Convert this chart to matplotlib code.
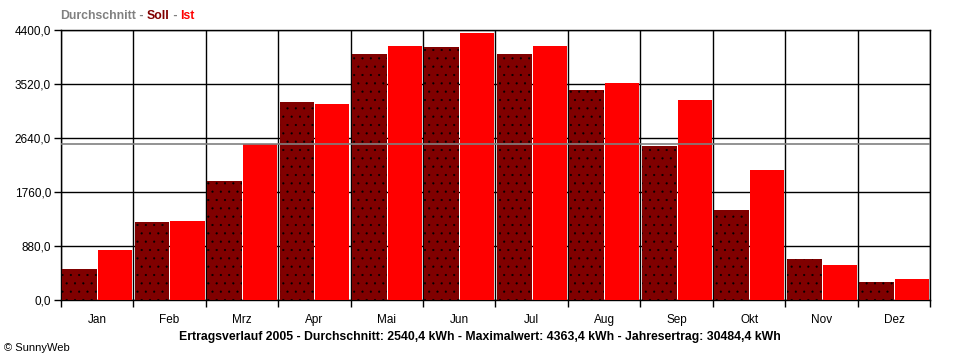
import matplotlib
matplotlib.use("Agg")
import matplotlib.pyplot as plt
import numpy as np

months = ["Jan", "Feb", "Mrz", "Apr", "Mai", "Jun", "Jul", "Aug", "Sep", "Okt", "Nov", "Dez"]
soll = [510, 1276, 1945, 3232, 4014, 4128, 4014, 3428, 2515, 1472, 674, 299]
ist = [820, 1293, 2548, 3200, 4145, 4363.4, 4145, 3542, 3265, 2124, 576, 348]
durchschnitt = 2540.4
yticks = [0, 880, 1760, 2640, 3520, 4400]
ytick_labels = ["0,0", "880,0", "1760,0", "2640,0", "3520,0", "4400,0"]
title = "Ertragsverlauf 2005 - Durchschnitt: 2540,4 kWh - Maximalwert: 4363,4 kWh - Jahresertrag: 30484,4 kWh"

plt.rcParams['font.family'] = ['Liberation Sans', 'DejaVu Sans']
plt.rcParams['hatch.linewidth'] = 0.3

fig = plt.figure(figsize=(9.6, 3.6), dpi=100)
ax = fig.add_axes([60.7/960, 1-300/360, (930.3-60.7)/960, (300-30.3)/360])

x = np.arange(len(months))
ax.bar(x + 0.02, soll, width=0.48, align='edge', color='#800000',
       edgecolor='black', linewidth=0, hatch='..', zorder=2)
ax.bar(x + 0.515, ist, width=0.47, align='edge', color='#ff0000',
       linewidth=0, zorder=2)
ax.axhline(durchschnitt, color='#808080', linewidth=1.2, zorder=3)

ax.set_xlim(0, 12)
ax.set_ylim(0, 4400)
ax.set_yticks(yticks)
ax.set_yticklabels(ytick_labels, fontsize=8.5)
ax.set_xticks(np.arange(0, 13))
ax.set_xticklabels([])
ax.set_xticks(x + 0.5, minor=True)
ax.set_xticklabels(months, minor=True, fontsize=8.5)
ax.tick_params(axis='x', which='minor', length=0, pad=10)
ax.tick_params(axis='x', which='major', length=5, width=1, color='black')
ax.tick_params(axis='y', length=5, width=1, color='black', pad=2)
ax.grid(True, which='major', color='black', linewidth=1.0, zorder=0)
ax.set_axisbelow(True)
for s in ax.spines.values():
    s.set_color('black')
    s.set_linewidth(1.0)
    s.set_zorder(1)

fig.text(480/960, 1-337/360, title, ha='center', va='center', fontsize=8.8,
         fontweight='bold', color='black')
fig.text(4/960, 1-348/360, "\u00a9 SunnyWeb", ha='left', va='center', fontsize=8)

# legend-like header
parts = [("Durchschnitt", '#808080'), (" - ", '#808080'), ("Soll", '#800000'),
         (" - ", '#808080'), ("Ist", '#ff0000')]
fig.canvas.draw()
renderer = fig.canvas.get_renderer()
xpos = 60/960
for txt, col in parts:
    t = fig.text(xpos, 1-16/360, txt, ha='left', va='center', fontsize=8.8,
                 fontweight='bold', color=col)
    bb = t.get_window_extent(renderer=renderer)
    xpos += bb.width / 960

fig.savefig("out.png", dpi=100)
